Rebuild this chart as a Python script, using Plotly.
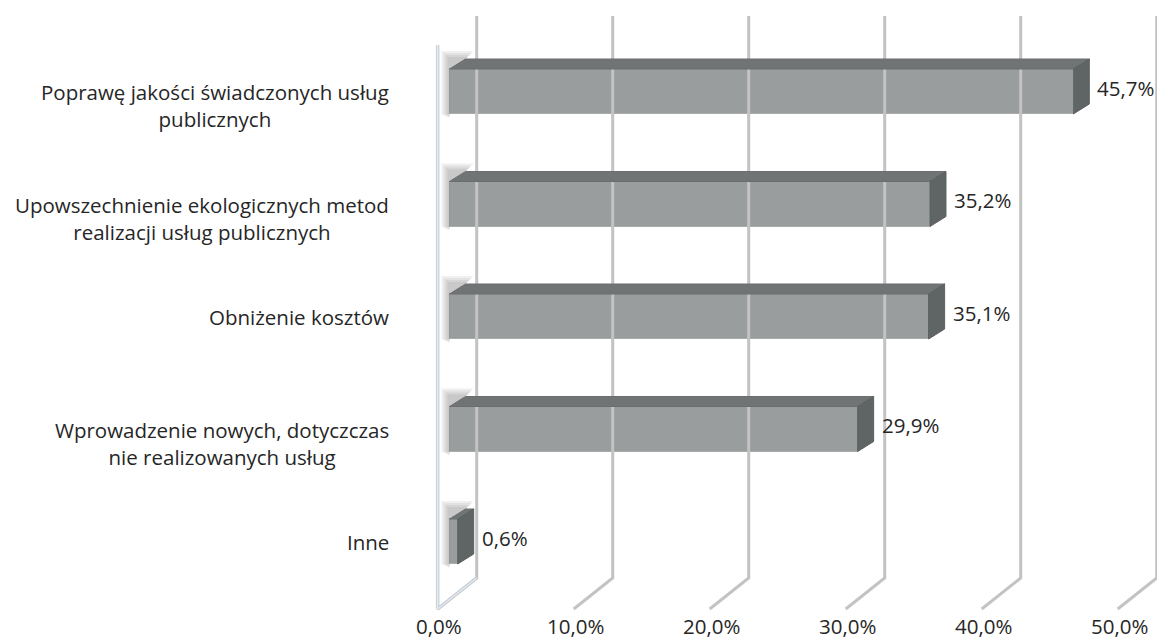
import plotly.graph_objects as go

# ---- data -------------------------------------------------------------
categories = [
    "Poprawę jakości świadczonych usług<br>publicznych",
    "Upowszechnienie ekologicznych metod<br>realizacji usług publicznych",
    "Obniżenie kosztów",
    "Wprowadzenie nowych, dotyczczas<br>nie realizowanych usług",
    "Inne",
]
values = [45.7, 35.2, 35.1, 29.9, 0.6]
tick_values = [0, 10, 20, 30, 40, 50]

# ---- geometry of the pseudo-3D scene (pixels) -------------------------
W, H = 1157, 641
X0, SX = 449.5, 13.65          # bar front face: pixel of 0 % and px per %
Y0, SY = 91.5, 112.5           # centre of first bar and category pitch
BAR_H = 45                     # front face height
DEPTH_DX, DEPTH_DY = 16, -10   # bar depth (top / side faces)

WALL_BACK_X0, WALL_SX = 476.7, 13.6   # back wall 0 % and px per %
WALL_TOP = 16
FLOOR_BACK, FLOOR_FRONT = 578, 609
FLOOR_DX = -39                         # floor depth, horizontal shift

FONT = "Open Sans"
TXT = "#262626"
FS = 20.5


def xd(px):
    return (px - X0) / SX


def yd(py):
    return (py - Y0) / SY


ddx = DEPTH_DX / SX
ddy = DEPTH_DY / SY
half = BAR_H / SY / 2
idx = list(range(len(categories)))

fig = go.Figure()

# gridlines on the back wall, bending onto the floor
for v in tick_values:
    bx = xd(WALL_BACK_X0 + v * WALL_SX)
    fx = xd(WALL_BACK_X0 + v * WALL_SX + FLOOR_DX)
    fig.add_trace(go.Scatter(
        x=[bx, bx, fx], y=[yd(WALL_TOP), yd(FLOOR_BACK), yd(FLOOR_FRONT)],
        mode="lines", line=dict(color="#c3c3c3", width=3),
        hoverinfo="skip"))

# left side wall outline
lx_front = xd(WALL_BACK_X0 + FLOOR_DX)
lx_back = xd(WALL_BACK_X0)
for col, lw in (("#c9d1d8", 3.5), ("#eef2f5", 1)):
    fig.add_trace(go.Scatter(
        x=[lx_front, lx_front, lx_back],
        y=[yd(WALL_TOP + 29), yd(FLOOR_FRONT), yd(FLOOR_BACK)],
        mode="lines", line=dict(color=col, width=lw),
        hoverinfo="skip"))

# soft shadow around the left end of each bar
for i, v in zip(idx, values):
    top = i - half
    bot = i + half
    for k in (8, 6, 4, 2):
        sx = k / SX
        sy = k / SY
        fig.add_trace(go.Scatter(
            x=[0, -sx, -sx, ddx - sx, ddx + sx, ddx, 0],
            y=[bot + sy * 0.5, bot, top + ddy - sy, top + ddy - sy,
               top + ddy - sy, top + ddy, top],
            mode="lines", fill="toself", fillcolor="rgba(60,60,60,0.08)",
            line=dict(width=0), hoverinfo="skip"))

# top and side faces of each bar
for i, v in zip(idx, values):
    top = i - half
    bot = i + half
    fig.add_trace(go.Scatter(
        x=[0, v, v + ddx, ddx, 0],
        y=[top, top, top + ddy, top + ddy, top],
        mode="lines", fill="toself", fillcolor="#707474",
        line=dict(color="#6a6e6e", width=1), hoverinfo="skip"))
    fig.add_trace(go.Scatter(
        x=[v, v + ddx, v + ddx, v, v],
        y=[top, top + ddy, bot + ddy, bot, top],
        mode="lines", fill="toself", fillcolor="#5f6565",
        line=dict(color="#5a6060", width=1), hoverinfo="skip"))

# front faces
fig.add_trace(go.Bar(
    x=values, y=idx, base=0, orientation="h", width=2 * half,
    marker=dict(color="#9a9d9d", line=dict(color="#a9acac", width=1)),
    hoverinfo="skip"))

annotations = []
# value labels
for i, v in zip(idx, values):
    annotations.append(dict(
        x=v, y=i, xref="x", yref="y", xanchor="left", yanchor="middle",
        xshift=22, yshift=4, showarrow=False,
        text=f"{v:.1f}%".replace(".", ","),
        font=dict(family=FONT, size=FS, color=TXT)))

# category labels
for i, c in zip(idx, categories):
    annotations.append(dict(
        x=xd(391), y=i, xref="x", yref="y", xanchor="right", yanchor="top",
        yshift=0.65 * FS + 2, align="center", showarrow=False, text=c,
        font=dict(family=FONT, size=FS, color=TXT)))

# value axis labels along the floor front edge
for v in tick_values:
    annotations.append(dict(
        x=xd(WALL_BACK_X0 + v * WALL_SX + FLOOR_DX + 1.5), y=yd(H),
        xref="x", yref="y", xanchor="center", yanchor="bottom",
        showarrow=False, borderpad=0, text=f"{v:.1f}%".replace(".", ","),
        font=dict(family=FONT, size=FS, color=TXT)))

fig.update_layout(
    width=W, height=H,
    margin=dict(l=0, r=0, t=0, b=0),
    paper_bgcolor="white", plot_bgcolor="white",
    showlegend=False,
    xaxis=dict(range=[xd(0), xd(W)], visible=False, fixedrange=True),
    yaxis=dict(range=[yd(H), yd(0)], visible=False, fixedrange=True),
    annotations=annotations,
    bargap=0,
)

fig.write_html("out.html")
